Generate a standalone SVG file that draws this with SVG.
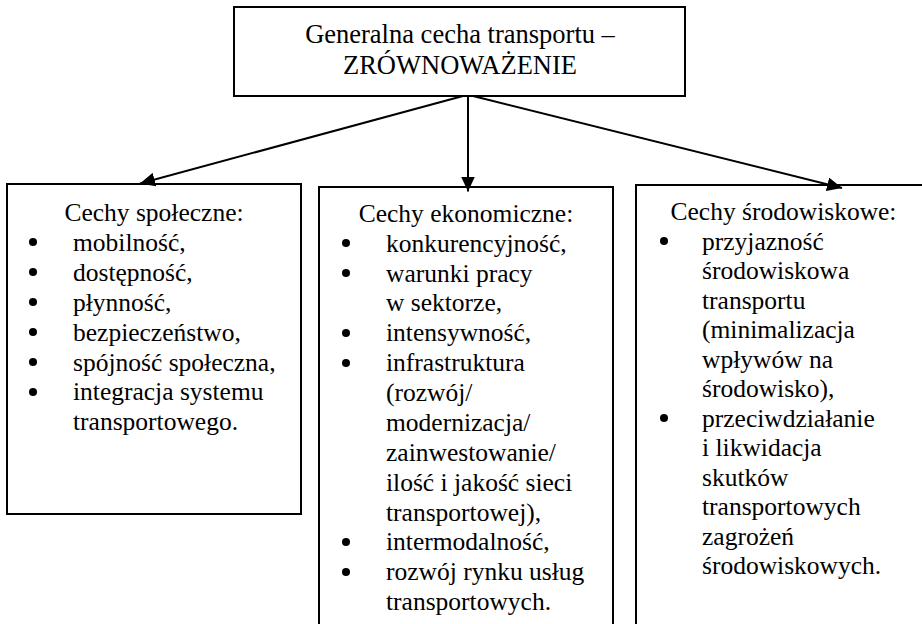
<svg xmlns="http://www.w3.org/2000/svg" width="922" height="624" viewBox="0 0 922 624">
<defs>
<style>
.box{fill:#fff;stroke:#000;stroke-width:2}
text{font-family:"Liberation Serif","Times New Roman",serif;fill:#000}
.t{font-size:25.5px}
.h{font-size:26.5px;text-anchor:middle}
.c{text-anchor:middle}
.b{fill:#000}
.ln{stroke:#000;stroke-width:2;fill:none;marker-end:url(#ah)}
</style>
<marker id="ah" markerUnits="userSpaceOnUse" markerWidth="16" markerHeight="14" viewBox="0 0 16 14" refX="15" refY="7" orient="auto">
<path d="M0,0 L15,7 L0,14 Z" fill="#000"/>
</marker>
</defs>
<rect width="922" height="624" fill="#fff"/>
<g id="top">
<rect class="box" x="234" y="7" width="451" height="89"/>
<text class="h" x="460" y="43" font-family="Liberation Serif, serif">Generalna cecha transportu –</text>
<text class="h" x="460" y="74" font-family="Liberation Serif, serif">ZRÓWNOWAŻENIE</text>
</g>
<g id="left" font-family="Liberation Serif, serif">
<rect class="box" x="7" y="184" width="294" height="330"/>
<text class="t c" x="154" y="221" font-family="Liberation Serif, serif">Cechy społeczne:</text>
<g class="b">
<circle cx="33" cy="242" r="4"/><circle cx="33" cy="272" r="4"/><circle cx="33" cy="302" r="4"/><circle cx="33" cy="332" r="4"/><circle cx="33" cy="362" r="4"/><circle cx="33" cy="392" r="4"/>
</g>
<text class="t" x="73" y="250.9" font-family="Liberation Serif, serif">mobilność,</text>
<text class="t" x="73" y="280.8" font-family="Liberation Serif, serif">dostępność,</text>
<text class="t" x="73" y="310.7" font-family="Liberation Serif, serif">płynność,</text>
<text class="t" x="73" y="340.6" font-family="Liberation Serif, serif">bezpieczeństwo,</text>
<text class="t" x="73" y="370.5" font-family="Liberation Serif, serif">spójność społeczna,</text>
<text class="t" x="73" y="400.4" font-family="Liberation Serif, serif">integracja systemu</text>
<text class="t" x="73" y="430.3" font-family="Liberation Serif, serif">transportowego.</text>
</g>
<g id="middle">
<rect class="box" x="319" y="187" width="294" height="450"/>
<text class="t c" x="466" y="221.7" font-family="Liberation Serif, serif">Cechy ekonomiczne:</text>
<g class="b">
<circle cx="346" cy="243" r="4"/><circle cx="346" cy="273" r="4"/><circle cx="346" cy="333" r="4"/><circle cx="346" cy="363" r="4"/><circle cx="346" cy="542" r="4"/><circle cx="346" cy="572" r="4"/>
</g>
<text class="t" x="386" y="251.6" font-family="Liberation Serif, serif">konkurencyjność,</text>
<text class="t" x="386" y="281.5" font-family="Liberation Serif, serif">warunki pracy</text>
<text class="t" x="386" y="311.3" font-family="Liberation Serif, serif">w sektorze,</text>
<text class="t" x="386" y="341.2" font-family="Liberation Serif, serif">intensywność,</text>
<text class="t" x="386" y="371.1" font-family="Liberation Serif, serif">infrastruktura</text>
<text class="t" x="386" y="401" font-family="Liberation Serif, serif">(rozwój/</text>
<text class="t" x="386" y="430.9" font-family="Liberation Serif, serif">modernizacja/</text>
<text class="t" x="386" y="460.8" font-family="Liberation Serif, serif">zainwestowanie/</text>
<text class="t" x="386" y="490.7" font-family="Liberation Serif, serif">ilość i jakość sieci</text>
<text class="t" x="386" y="520.6" font-family="Liberation Serif, serif">transportowej),</text>
<text class="t" x="386" y="550.4" font-family="Liberation Serif, serif">intermodalność,</text>
<text class="t" x="386" y="580.3" font-family="Liberation Serif, serif">rozwój rynku usług</text>
<text class="t" x="386" y="610.2" font-family="Liberation Serif, serif">transportowych.</text>
</g>
<g id="right">
<rect class="box" x="636" y="185" width="300" height="450"/>
<text class="t c" x="783.5" y="220" font-family="Liberation Serif, serif">Cechy środowiskowe:</text>
<g class="b">
<circle cx="664" cy="241" r="4"/><circle cx="664" cy="418" r="4"/>
</g>
<text class="t" x="702" y="249.5" font-family="Liberation Serif, serif">przyjazność</text>
<text class="t" x="702" y="279" font-family="Liberation Serif, serif">środowiskowa</text>
<text class="t" x="702" y="308.5" font-family="Liberation Serif, serif">transportu</text>
<text class="t" x="702" y="338" font-family="Liberation Serif, serif">(minimalizacja</text>
<text class="t" x="702" y="367.5" font-family="Liberation Serif, serif">wpływów na</text>
<text class="t" x="702" y="397" font-family="Liberation Serif, serif">środowisko),</text>
<text class="t" x="702" y="426.5" font-family="Liberation Serif, serif">przeciwdziałanie</text>
<text class="t" x="702" y="456" font-family="Liberation Serif, serif">i likwidacja</text>
<text class="t" x="702" y="485.5" font-family="Liberation Serif, serif">skutków</text>
<text class="t" x="702" y="515" font-family="Liberation Serif, serif">transportowych</text>
<text class="t" x="702" y="544.5" font-family="Liberation Serif, serif">zagrożeń</text>
<text class="t" x="702" y="574" font-family="Liberation Serif, serif">środowiskowych.</text>
</g>
<g id="connectors">
<line class="ln" x1="463" y1="96" x2="140" y2="183.5"/>
<line class="ln" x1="468" y1="96" x2="468" y2="191.5"/>
<line class="ln" x1="473" y1="96" x2="842" y2="188"/>
</g>
</svg>
